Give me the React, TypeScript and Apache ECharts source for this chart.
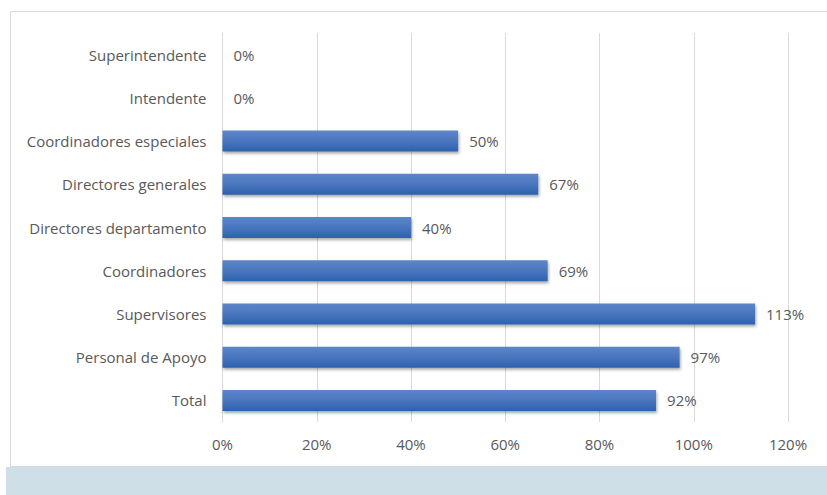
import React, { useEffect, useRef } from "react";
import * as echarts from "echarts";

const categories = [
  "Total",
  "Personal de Apoyo",
  "Supervisores",
  "Coordinadores",
  "Directores departamento",
  "Directores generales",
  "Coordinadores especiales",
  "Intendente",
  "Superintendente",
];
const values = [92, 97, 113, 69, 40, 67, 50, 0, 0];
const xTicks = { min: 0, max: 120, interval: 20 };

export default function App() {
  const ref = useRef<HTMLDivElement>(null);
  useEffect(() => {
    const chart = echarts.init(ref.current!, null, { renderer: "svg" });
    const font = "'Open Sans', 'Noto Sans', sans-serif";
    const fs = 15;
    chart.setOption({
      animation: false,
      backgroundColor: "#ffffff",
      textStyle: { fontFamily: font },
      graphic: [
        {
          type: "rect",
          shape: { x: 10.5, y: 11.5, width: 830, height: 455 },
          style: { fill: "none", stroke: "#d9d9d9", lineWidth: 1 },
          z: 0,
        },
        {
          type: "rect",
          shape: { x: 6, y: 467, width: 830, height: 30 },
          style: { fill: "#cfdfe8" },
          z: 0,
        },
      ],
      grid: { left: 222.5, right: 39, top: 33, bottom: 73, containLabel: false },
      xAxis: {
        type: "value",
        min: xTicks.min,
        max: xTicks.max,
        interval: xTicks.interval,
        axisLabel: {
          formatter: "{value}%",
          color: "#595959",
          fontSize: fs,
          fontFamily: font,
          margin: 14,
        },
        axisLine: { show: false },
        axisTick: { show: false },
        splitLine: { show: true, lineStyle: { color: "#d9d9d9", width: 1 } },
      },
      yAxis: {
        type: "category",
        data: categories,
        axisLabel: {
          color: "#595959",
          fontSize: fs,
          fontFamily: font,
          margin: 16,
        },
        axisLine: { show: true, lineStyle: { color: "#d9d9d9", width: 1 } },
        axisTick: { show: false },
      },
      series: [
        {
          type: "bar",
          data: values,
          barWidth: 21,
          itemStyle: {
            color: new echarts.graphic.LinearGradient(0, 0, 0, 1, [
              { offset: 0, color: "#5d86c9" },
              { offset: 0.5, color: "#4a76bf" },
              { offset: 1, color: "#2c61ad" },
            ]),
            shadowColor: "rgba(0,0,0,0.35)",
            shadowBlur: 3,
            shadowOffsetY: 2,
            shadowOffsetX: 1,
          },
          label: {
            show: true,
            position: "right",
            distance: 11,
            formatter: "{c}%",
            color: "#595959",
            fontSize: fs,
            fontFamily: font,
          },
        },
      ],
    });
    return () => chart.dispose();
  }, []);
  return (
    <div
      ref={ref}
      style={{ position: "fixed", left: 0, top: 0, width: 827, height: 495 }}
    />
  );
}
